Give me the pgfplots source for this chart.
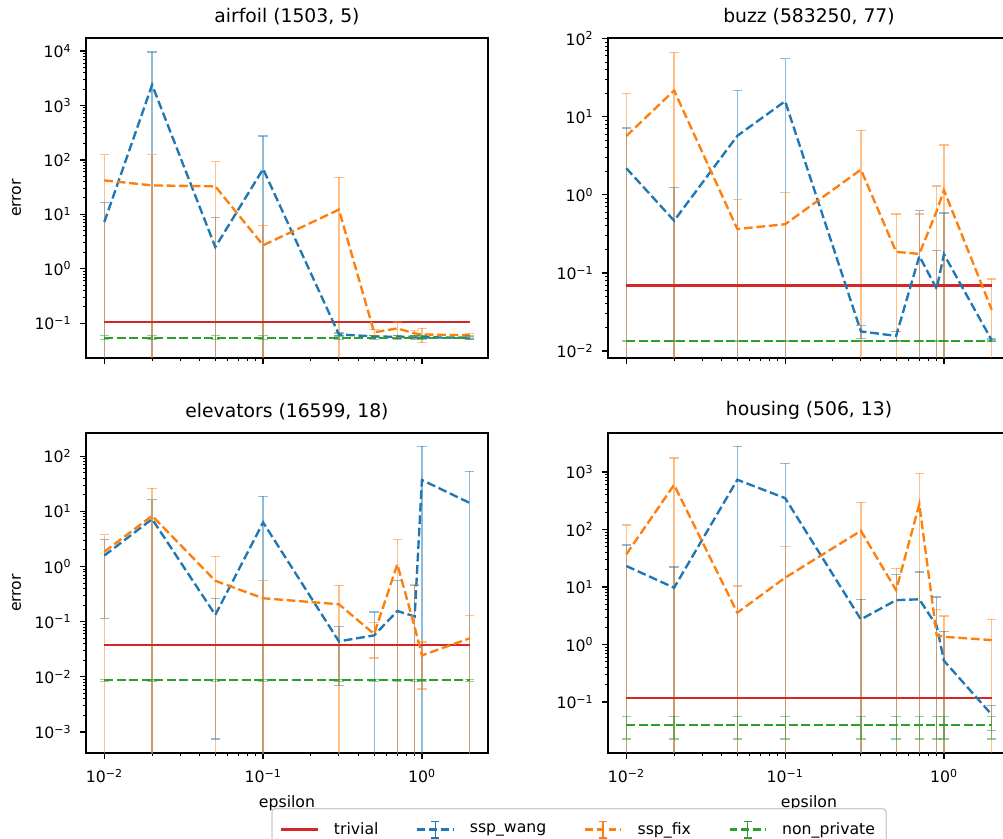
\documentclass[border=0pt]{standalone}
\usepackage{fontspec}
\setmainfont{DejaVu Sans}
\usepackage{pgfplots}
\pgfplotsset{compat=1.18}
\definecolor{tabblue}{HTML}{1F77B4}
\definecolor{taborange}{HTML}{FF7F0E}
\definecolor{tabgreen}{HTML}{2CA02C}
\definecolor{tabred}{HTML}{D62728}
\newcommand{\tp}[1]{10\textsuperscript{#1}}
\pgfplotsset{
  myPanel/.style={
    scale only axis, width=289.44pt, height=230.4pt, anchor=south west,
    xmin=0.00767, xmax=2.606,
    xtick={0.01,0.1,1},
    axis line style={line width=0.9pt},
    tick align=outside, tick pos=left,
    major tick length=4pt, minor tick length=2.3pt,
    major tick style={black, line width=0.9pt},
    minor tick style={black, line width=0.7pt},
    tick label style={font=\fontsize{11.3}{13}\selectfont},
    xticklabel style={yshift=-4pt},
    yticklabel style={xshift=-3pt},
    title style={font=\fontsize{13.5}{16}\selectfont},
    unbounded coords=jump, clip=true,
    every axis y label/.style={at={(axis description cs:-0.1724,0.5)}, rotate=90, anchor=center, font=\fontsize{11.3}{13}\selectfont},
    every axis x label/.style={at={(axis description cs:0.5,-0.156)}, anchor=center, font=\fontsize{11.3}{13}\selectfont},
  },
  myBar/.style={line width=0.9pt, opacity=0.5, mark=none, solid, forget plot},
  myCap/.style={only marks, mark=-, mark size=3.4pt, mark options={line width=0.9pt, solid, opacity=0.5}, forget plot},
  myDash/.style={line width=1.7pt, dash pattern=on 6.3pt off 2.7pt, mark=none},
  myTriv/.style={tabred, line width=1.7pt, mark=none,
    legend image code/.code={\draw[line width=1.7pt] (0pt,0pt) -- (26pt,0pt);}},
  myEb/.style={legend image code/.code={
    \draw[line width=1.7pt, dash pattern=on 5.5pt off 3pt] (0pt,0pt) -- (26pt,0pt);
    \draw[solid, line width=0.9pt] (13pt,-6pt) -- (13pt,6pt) (10pt,-6pt) -- (16pt,-6pt) (10pt,6pt) -- (16pt,6pt);}},
}
\begin{document}
\begin{tikzpicture}
\useasboundingbox (0,0) rectangle (722.16pt,604.08pt);
% ---------------- airfoil ----------------
\begin{axis}[xmode=log, ymode=log, myPanel, at={(61.92pt,346.32pt)}, title={airfoil (1503, 5)},
  ymin=0.0229, ymax=17378, ytick={0.1,1,10,100,1000,10000},
  yticklabels={\tp{−1},\tp{0},\tp{1},\tp{2},\tp{3},\tp{4}}, xticklabels={}, ylabel={error}]
\addplot[myBar, tabblue] coordinates {(0.01,1e-6) (0.01,16.3) (0.01,nan) (0.02,1e-6) (0.02,9600) (0.02,nan) (0.05,1e-6) (0.05,8.7) (0.05,nan) (0.1,1e-6) (0.1,275) (0.1,nan) (0.3,0.058) (0.3,0.066) (0.3,nan) (0.5,0.054) (0.5,0.060) (0.5,nan) (0.7,0.053) (0.7,0.059) (0.7,nan) (0.9,0.053) (0.9,0.059) (0.9,nan) (1,0.052) (1,0.058) (1,nan) (2,0.051) (2,0.057)};
\addplot[myCap, tabblue] coordinates {(0.01,16.3) (0.02,9600) (0.05,8.7) (0.1,275) (0.3,0.066) (0.3,0.058) (0.5,0.060) (0.5,0.054) (0.7,0.059) (0.7,0.053) (0.9,0.059) (0.9,0.053) (1,0.058) (1,0.052) (2,0.057) (2,0.051)};
\addplot[myBar, taborange] coordinates {(0.01,1e-6) (0.01,125) (0.01,nan) (0.02,1e-6) (0.02,125) (0.02,nan) (0.05,1e-6) (0.05,92) (0.05,nan) (0.1,1e-6) (0.1,6.3) (0.1,nan) (0.3,1e-6) (0.3,48) (0.3,nan) (0.5,0.060) (0.5,0.076) (0.5,nan) (0.7,0.055) (0.7,0.105) (0.7,nan) (0.9,0.057) (0.9,0.073) (0.9,nan) (1,0.044) (1,0.080) (1,nan) (2,0.055) (2,0.065)};
\addplot[myCap, taborange] coordinates {(0.01,125) (0.02,125) (0.05,92) (0.1,6.3) (0.3,48) (0.5,0.076) (0.5,0.060) (0.7,0.105) (0.7,0.055) (0.9,0.073) (0.9,0.057) (1,0.080) (1,0.044) (2,0.065) (2,0.055)};
\addplot[myBar, tabgreen] coordinates {(0.01,0.0495) (0.01,0.0585) (0.01,nan) (0.02,0.0495) (0.02,0.0585) (0.02,nan) (0.05,0.0495) (0.05,0.0585) (0.05,nan) (0.1,0.0495) (0.1,0.0585) (0.1,nan) (0.3,0.0495) (0.3,0.0585) (0.3,nan) (0.5,0.0495) (0.5,0.0585) (0.5,nan) (0.7,0.0495) (0.7,0.0585) (0.7,nan) (0.9,0.0495) (0.9,0.0585) (0.9,nan) (1,0.0495) (1,0.0585) (1,nan) (2,0.0495) (2,0.0585)};
\addplot[myCap, tabgreen] coordinates {(0.01,0.0495) (0.01,0.0585) (0.02,0.0495) (0.02,0.0585) (0.05,0.0495) (0.05,0.0585) (0.1,0.0495) (0.1,0.0585) (0.3,0.0495) (0.3,0.0585) (0.5,0.0495) (0.5,0.0585) (0.7,0.0495) (0.7,0.0585) (0.9,0.0495) (0.9,0.0585) (1,0.0495) (1,0.0585) (2,0.0495) (2,0.0585)};
\addplot[myTriv] coordinates {(0.01,0.104) (2,0.104)};
\addplot[myDash, tabblue] coordinates {(0.01,7.2) (0.02,2390) (0.05,2.5) (0.1,68) (0.3,0.062) (0.5,0.057) (0.7,0.056) (0.9,0.056) (1,0.055) (2,0.054)};
\addplot[myDash, taborange] coordinates {(0.01,42) (0.02,34) (0.05,32.6) (0.1,2.7) (0.3,12.2) (0.5,0.068) (0.7,0.080) (0.9,0.065) (1,0.062) (2,0.060)};
\addplot[myDash, tabgreen] coordinates {(0.01,0.054) (0.02,0.054) (0.05,0.054) (0.1,0.054) (0.3,0.054) (0.5,0.054) (0.7,0.054) (0.9,0.054) (1,0.054) (2,0.054)};
\end{axis}
% ---------------- buzz ----------------
\begin{axis}[xmode=log, ymode=log, myPanel, at={(437.76pt,346.32pt)}, title={buzz (583250, 77)},
  ymin=0.00813, ymax=102, ytick={0.01,0.1,1,10,100},
  yticklabels={\tp{−2},\tp{−1},\tp{0},\tp{1},\tp{2}}, xticklabels={}]
\addplot[myBar, tabblue] coordinates {(0.01,1e-6) (0.01,7.2) (0.01,nan) (0.02,1e-6) (0.02,1.24) (0.02,nan) (0.05,1e-6) (0.05,21.7) (0.05,nan) (0.1,1e-6) (0.1,55.6) (0.1,nan) (0.3,0.0146) (0.3,0.021) (0.3,nan) (0.5,0.0136) (0.5,0.0176) (0.5,nan) (0.7,1e-6) (0.7,0.625) (0.7,nan) (0.9,1e-6) (0.9,0.193) (0.9,nan) (1,1e-6) (1,0.583) (1,nan) (2,0.0132) (2,0.0142)};
\addplot[myCap, tabblue] coordinates {(0.01,7.2) (0.02,1.24) (0.05,21.7) (0.1,55.6) (0.3,0.021) (0.3,0.0146) (0.5,0.0176) (0.5,0.0136) (0.7,0.625) (0.9,0.193) (1,0.583) (2,0.0142) (2,0.0132)};
\addplot[myBar, taborange] coordinates {(0.01,1e-6) (0.01,20) (0.01,nan) (0.02,1e-6) (0.02,67) (0.02,nan) (0.05,1e-6) (0.05,0.863) (0.05,nan) (0.1,1e-6) (0.1,1.07) (0.1,nan) (0.3,1e-6) (0.3,6.7) (0.3,nan) (0.5,1e-6) (0.5,0.567) (0.5,nan) (0.7,1e-6) (0.7,0.567) (0.7,nan) (0.9,1e-6) (0.9,1.30) (0.9,nan) (1,1e-6) (1,4.35) (1,nan) (2,1e-6) (2,0.0838)};
\addplot[myCap, taborange] coordinates {(0.01,20) (0.02,67) (0.05,0.863) (0.1,1.07) (0.3,6.7) (0.5,0.567) (0.7,0.567) (0.9,1.30) (1,4.35) (2,0.0838)};
\addplot[myBar, tabgreen] coordinates {(0.01,0.0131) (0.01,0.0137) (0.01,nan) (0.02,0.0131) (0.02,0.0137) (0.02,nan) (0.05,0.0131) (0.05,0.0137) (0.05,nan) (0.1,0.0131) (0.1,0.0137) (0.1,nan) (0.3,0.0131) (0.3,0.0137) (0.3,nan) (0.5,0.0131) (0.5,0.0137) (0.5,nan) (0.7,0.0131) (0.7,0.0137) (0.7,nan) (0.9,0.0131) (0.9,0.0137) (0.9,nan) (1,0.0131) (1,0.0137) (1,nan) (2,0.0131) (2,0.0137)};
\addplot[myCap, tabgreen] coordinates {(0.01,0.0131) (0.01,0.0137) (0.02,0.0131) (0.02,0.0137) (0.05,0.0131) (0.05,0.0137) (0.1,0.0131) (0.1,0.0137) (0.3,0.0131) (0.3,0.0137) (0.5,0.0131) (0.5,0.0137) (0.7,0.0131) (0.7,0.0137) (0.9,0.0131) (0.9,0.0137) (1,0.0131) (1,0.0137) (2,0.0131) (2,0.0137)};
\addplot[myTriv] coordinates {(0.01,0.069) (2,0.069)};
\addplot[myDash, tabblue] coordinates {(0.01,2.19) (0.02,0.466) (0.05,5.7) (0.1,15.8) (0.3,0.0178) (0.5,0.0156) (0.7,0.164) (0.9,0.0625) (1,0.173) (2,0.0137)};
\addplot[myDash, taborange] coordinates {(0.01,5.66) (0.02,21.7) (0.05,0.365) (0.1,0.42) (0.3,2.1) (0.5,0.186) (0.7,0.175) (0.9,0.62) (1,1.15) (2,0.0337)};
\addplot[myDash, tabgreen] coordinates {(0.01,0.0134) (0.02,0.0134) (0.05,0.0134) (0.1,0.0134) (0.3,0.0134) (0.5,0.0134) (0.7,0.0134) (0.9,0.0134) (1,0.0134) (2,0.0134)};
\end{axis}
% ---------------- elevators ----------------
\begin{axis}[xmode=log, ymode=log, myPanel, at={(61.92pt,61.92pt)}, title={elevators (16599, 18)},
  ymin=0.000417, ymax=263, ytick={0.001,0.01,0.1,1,10,100},
  yticklabels={\tp{−3},\tp{−2},\tp{−1},\tp{0},\tp{1},\tp{2}},
  xticklabels={\tp{−2},\tp{−1},\tp{0}}, ylabel={error}, xlabel={epsilon}]
\addplot[myBar, tabblue] coordinates {(0.01,0.115) (0.01,3.05) (0.01,nan) (0.02,1e-6) (0.02,16.3) (0.02,nan) (0.05,0.00075) (0.05,0.265) (0.05,nan) (0.1,1e-6) (0.1,18.7) (0.1,nan) (0.3,0.007) (0.3,0.081) (0.3,nan) (0.5,1e-6) (0.5,0.15) (0.5,nan) (0.7,1e-6) (0.7,0.55) (0.7,nan) (0.9,1e-6) (0.9,0.457) (0.9,nan) (1,1e-6) (1,152) (1,nan) (2,1e-6) (2,53)};
\addplot[myCap, tabblue] coordinates {(0.01,3.05) (0.01,0.115) (0.02,16.3) (0.05,0.265) (0.05,0.00075) (0.1,18.7) (0.3,0.081) (0.3,0.007) (0.5,0.15) (0.7,0.55) (0.9,0.457) (1,152) (2,53)};
\addplot[myBar, taborange] coordinates {(0.01,1e-6) (0.01,3.77) (0.01,nan) (0.02,1e-6) (0.02,26.2) (0.02,nan) (0.05,1e-6) (0.05,1.52) (0.05,nan) (0.1,1e-6) (0.1,0.55) (0.1,nan) (0.3,1e-6) (0.3,0.457) (0.3,nan) (0.5,0.022) (0.5,0.098) (0.5,nan) (0.7,1e-6) (0.7,3.1) (0.7,nan) (0.9,1e-6) (0.9,0.47) (0.9,nan) (1,0.006) (1,0.043) (1,nan) (2,1e-6) (2,0.128)};
\addplot[myCap, taborange] coordinates {(0.01,3.77) (0.02,26.2) (0.05,1.52) (0.1,0.55) (0.3,0.457) (0.5,0.098) (0.5,0.022) (0.7,3.1) (0.9,0.47) (1,0.043) (1,0.006) (2,0.128)};
\addplot[myBar, tabgreen] coordinates {(0.01,0.0083) (0.01,0.0091) (0.01,nan) (0.02,0.0083) (0.02,0.0091) (0.02,nan) (0.05,0.0083) (0.05,0.0091) (0.05,nan) (0.1,0.0083) (0.1,0.0091) (0.1,nan) (0.3,0.0083) (0.3,0.0091) (0.3,nan) (0.5,0.0083) (0.5,0.0091) (0.5,nan) (0.7,0.0083) (0.7,0.0091) (0.7,nan) (0.9,0.0083) (0.9,0.0091) (0.9,nan) (1,0.0083) (1,0.0091) (1,nan) (2,0.0083) (2,0.0091)};
\addplot[myCap, tabgreen] coordinates {(0.01,0.0083) (0.01,0.0091) (0.02,0.0083) (0.02,0.0091) (0.05,0.0083) (0.05,0.0091) (0.1,0.0083) (0.1,0.0091) (0.3,0.0083) (0.3,0.0091) (0.5,0.0083) (0.5,0.0091) (0.7,0.0083) (0.7,0.0091) (0.9,0.0083) (0.9,0.0091) (1,0.0083) (1,0.0091) (2,0.0083) (2,0.0091)};
\addplot[myTriv] coordinates {(0.01,0.0377) (2,0.0377)};
\addplot[myDash, tabblue] coordinates {(0.01,1.58) (0.02,7.25) (0.05,0.133) (0.1,6.3) (0.3,0.044) (0.5,0.0565) (0.7,0.156) (0.9,0.125) (1,37) (2,14.2)};
\addplot[myDash, taborange] coordinates {(0.01,1.85) (0.02,8.3) (0.05,0.55) (0.1,0.266) (0.3,0.207) (0.5,0.060) (0.7,1.1) (0.9,0.08) (1,0.0245) (2,0.05)};
\addplot[myDash, tabgreen] coordinates {(0.01,0.0087) (0.02,0.0087) (0.05,0.0087) (0.1,0.0087) (0.3,0.0087) (0.5,0.0087) (0.7,0.0087) (0.9,0.0087) (1,0.0087) (2,0.0087)};
\end{axis}
% ---------------- housing ----------------
\begin{axis}[xmode=log, ymode=log, myPanel, at={(437.76pt,61.92pt)}, title={housing (506, 13)},
  ymin=0.0129, ymax=4786, ytick={0.1,1,10,100,1000},
  yticklabels={\tp{−1},\tp{0},\tp{1},\tp{2},\tp{3}},
  xticklabels={\tp{−2},\tp{−1},\tp{0}}, xlabel={epsilon},
  legend columns=4,
  legend style={at={(axis description cs:-0.0721,-0.172)}, anchor=north,
    draw=black!20, line width=0.9pt, rounded corners=2.5pt, fill=white,
    font=\fontsize{11.3}{13}\selectfont, inner xsep=6pt, inner ysep=8pt,
    /tikz/every odd column/.append style={column sep=9pt},
    /tikz/every even column/.append style={column sep=25pt}},
  legend cell align=left]
\addplot[myBar, tabblue] coordinates {(0.01,1e-6) (0.01,54) (0.01,nan) (0.02,1e-6) (0.02,22.3) (0.02,nan) (0.05,1e-6) (0.05,2810) (0.05,nan) (0.1,1e-6) (0.1,1415) (0.1,nan) (0.3,1e-6) (0.3,6.1) (0.3,nan) (0.5,1e-6) (0.5,16.4) (0.5,nan) (0.7,1e-6) (0.7,18.3) (0.7,nan) (0.9,1e-6) (0.9,6.7) (0.9,nan) (1,1e-6) (1,1.7) (1,nan) (2,0.032) (2,0.0875)};
\addplot[myCap, tabblue] coordinates {(0.01,54) (0.02,22.3) (0.05,2810) (0.1,1415) (0.3,6.1) (0.5,16.4) (0.7,18.3) (0.9,6.7) (1,1.7) (2,0.0875) (2,0.032)};
\addplot[myBar, taborange] coordinates {(0.01,1e-6) (0.01,120) (0.01,nan) (0.02,1e-6) (0.02,1750) (0.02,nan) (0.05,1e-6) (0.05,10.4) (0.05,nan) (0.1,1e-6) (0.1,50) (0.1,nan) (0.3,1e-6) (0.3,296) (0.3,nan) (0.5,1e-6) (0.5,21) (0.5,nan) (0.7,1e-6) (0.7,948) (0.7,nan) (0.9,1e-6) (0.9,4.08) (0.9,nan) (1,1e-6) (1,3.12) (1,nan) (2,1e-6) (2,2.73)};
\addplot[myCap, taborange] coordinates {(0.01,120) (0.02,1750) (0.05,10.4) (0.1,50) (0.3,296) (0.5,21) (0.7,948) (0.9,4.08) (1,3.12) (2,2.73)};
\addplot[myBar, tabgreen] coordinates {(0.01,0.0226) (0.01,0.056) (0.01,nan) (0.02,0.0226) (0.02,0.056) (0.02,nan) (0.05,0.0226) (0.05,0.056) (0.05,nan) (0.1,0.0226) (0.1,0.056) (0.1,nan) (0.3,0.0226) (0.3,0.056) (0.3,nan) (0.5,0.0226) (0.5,0.056) (0.5,nan) (0.7,0.0226) (0.7,0.056) (0.7,nan) (0.9,0.0226) (0.9,0.056) (0.9,nan) (1,0.0226) (1,0.056) (1,nan) (2,0.0226) (2,0.056)};
\addplot[myCap, tabgreen] coordinates {(0.01,0.0226) (0.01,0.056) (0.02,0.0226) (0.02,0.056) (0.05,0.0226) (0.05,0.056) (0.1,0.0226) (0.1,0.056) (0.3,0.0226) (0.3,0.056) (0.5,0.0226) (0.5,0.056) (0.7,0.0226) (0.7,0.056) (0.9,0.0226) (0.9,0.056) (1,0.0226) (1,0.056) (2,0.0226) (2,0.056)};
\addplot[myTriv] coordinates {(0.01,0.116) (2,0.116)};
\addlegendentry{trivial}
\addplot[myDash, tabblue, myEb] coordinates {(0.01,23.2) (0.02,9.7) (0.05,735) (0.1,352) (0.3,2.73) (0.5,5.9) (0.7,6.1) (0.9,2.1) (1,0.52) (2,0.06)};
\addlegendentry{ssp\_wang}
\addplot[myDash, taborange, myEb] coordinates {(0.01,37) (0.02,600) (0.05,3.57) (0.1,14.5) (0.3,95) (0.5,8.8) (0.7,276) (0.9,1.45) (1,1.36) (2,1.19)};
\addlegendentry{ssp\_fix}
\addplot[myDash, tabgreen, myEb] coordinates {(0.01,0.0393) (0.02,0.0393) (0.05,0.0393) (0.1,0.0393) (0.3,0.0393) (0.5,0.0393) (0.7,0.0393) (0.9,0.0393) (1,0.0393) (2,0.0393)};
\addlegendentry{non\_private}
\end{axis}
\end{tikzpicture}
\end{document}
